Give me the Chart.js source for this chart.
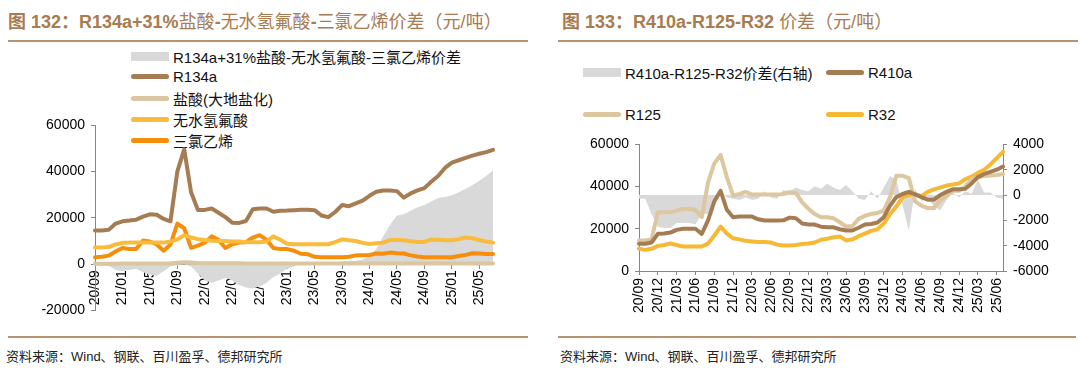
<!DOCTYPE html>
<html>
<head>
<meta charset="utf-8">
<script src="https://cdn.jsdelivr.net/npm/chart.js@4.4.1/dist/chart.umd.min.js"></script>
<style>
  body { margin: 0; width: 1080px; height: 371px; background: #fff; position: relative; overflow: hidden;
         font-family: "Liberation Sans", Arial, "Noto Sans CJK SC", sans-serif; }
  .title { position: absolute; top: 7px; font-size: 18px; color: #a87b50; white-space: nowrap; }
  .rule { position: absolute; height: 2px; background: #b8916f; }
  .src { position: absolute; top: 346px; font-size: 13px; color: #222; white-space: nowrap; }
  .item { position: absolute; display: flex; align-items: center; white-space: nowrap; font-size: 15px; color: #111; height: 20px; }
  .sw { width: 38px; margin-right: 4px; }
  canvas { position: absolute; }
</style>
</head>
<body>

<div class="title" style="left:8px"><b>图 132：R134a+31%</b>盐酸<b>-</b>无水氢氟酸<b>-</b>三氯乙烯价差（元/吨）</div>
<div class="rule" style="left:8px; top:40px; width:520px"></div>
<div class="title" style="left:562px"><b>图 133：R410a-R125-R32 </b>价差（元/吨）</div>
<div class="rule" style="left:558px; top:40px; width:520px"></div>

<div id="legend1"></div>
<div id="legend2"></div>

<div style="position:absolute; left:0; top:110px; width:540px; height:215px">
  <canvas id="chart1" width="540" height="215"></canvas>
</div>
<div style="position:absolute; left:540px; top:130px; width:540px; height:200px">
  <canvas id="chart2" width="540" height="200"></canvas>
</div>

<div class="rule" style="left:8px; top:336px; width:520px"></div>
<div class="rule" style="left:558px; top:336px; width:518px"></div>
<div class="src" style="left:6px">资料来源：Wind、钢联、百川盈孚、德邦研究所</div>
<div class="src" style="left:560px">资料来源：Wind、钢联、百川盈孚、德邦研究所</div>

<script>
// Monthly labels, 2020/09 - 2025/07
const months = [
  "20/09","20/10","20/11","20/12",
  "21/01","21/02","21/03","21/04","21/05","21/06","21/07","21/08","21/09","21/10","21/11","21/12",
  "22/01","22/02","22/03","22/04","22/05","22/06","22/07","22/08","22/09","22/10","22/11","22/12",
  "23/01","23/02","23/03","23/04","23/05","23/06","23/07","23/08","23/09","23/10","23/11","23/12",
  "24/01","24/02","24/03","24/04","24/05","24/06","24/07","24/08","24/09","24/10","24/11","24/12",
  "25/01","25/02","25/03","25/04","25/05","25/06","25/07"
];

// Chart 1 (元/吨)
const spread134 = [
  -200, -500, -800, -2500, -3000, -2500, -2000, -3500, -4500, -5000, -3000, -1000,
  -500, 0, -1000, -4000, -7000, -8000, -7000, -6000, -7000, -9000, -10000, -10500,
  -9500, -8000, -5500, -4000, -2000, -1000, 300, 500, 800, 600, 500, 800,
  1200, 1500, 1500, 2000, 3500, 6500, 12000, 17000, 21000, 21500, 23000, 24500,
  25500, 27000, 28500, 29000, 29700, 31000, 32500, 34000, 36000, 38000, 40500
];
const r134a = [
  14500, 14500, 14800, 17500, 18500, 18800, 19200, 20500, 21500, 21300, 19500, 18500,
  40000, 49500, 31000, 23400, 23400, 24000, 22200, 20300, 17900, 17800, 18600, 23700,
  24000, 24000, 22600, 23000, 23100, 23300, 23500, 23500, 23300, 21000, 20300, 22500,
  25500, 25000, 26200, 27400, 29500, 31200, 31800, 31800, 31500, 28700, 30500, 31800,
  32800, 35500, 38000, 41500, 43800, 44800, 45800, 46800, 47600, 48300, 49300
];
const hcl = [
  200, 200, 200, 200, 300, 300, 300, 300, 300, 300, 300, 400,
  600, 800, 700, 500, 400, 400, 400, 400, 400, 400, 300, 300,
  300, 300, 300, 300, 300, 300, 300, 300, 300, 300, 300, 300,
  300, 300, 300, 300, 300, 300, 300, 300, 300, 300, 300, 300,
  300, 300, 300, 300, 300, 300, 300, 300, 300, 300, 300
];
const hf = [
  7200, 7200, 7400, 8500, 9200, 9300, 9300, 9300, 9300, 9300, 9300, 9800,
  10700, 12500, 11500, 10800, 10400, 10100, 10000, 10000, 9800, 9800, 9600, 9500,
  9500, 9800, 12000, 10500, 8800, 8600, 8600, 8600, 8600, 8600, 8600, 9500,
  10700, 10300, 10000, 9200, 8700, 9000, 9300, 10400, 10400, 10300, 9900, 9600,
  9600, 10600, 10500, 10300, 10300, 10800, 11500, 11200, 10400, 9800, 9300
];
const tce = [
  3000, 3200, 3700, 5500, 7000, 6500, 6500, 10200, 9800, 8500, 5800, 8500,
  17500, 15500, 7000, 8000, 9300, 12000, 10500, 7000, 8600, 9300, 9500, 11500,
  12500, 10500, 7000, 6500, 6500, 5800, 4500, 4300, 3200, 3000, 3000, 3000,
  3000, 3200, 3800, 3900, 4000, 4600, 4500, 5000, 4700, 4600, 3800, 3300,
  3000, 3000, 3000, 3000, 3000, 3500, 4000, 4700, 4600, 4400, 4400
];

// Chart 2 (元/吨)
const spread410 = [
  -300, -300, -1500, -2500, -2600, -2600, -2200, -2200, -2200, -2300, -1500, -1500,
  -800, 300, -200, -300, -400, -200, -400, -300, 300, -200, -300, 400,
  300, 600, 400, 300, 700, 500, 900, 600, 400, 800, 300, -300,
  -400, 300, -300, 600, 1500, 1200, -800, -2800, 500, -500, -200, -900,
  -1200, -400, 200, -200, 300, 100, 1200, 200, 200, -200, -300
];
const r410a = [
  12900, 12900, 13500, 17600, 17800, 18200, 19500, 20000, 20000, 20000, 17600, 24000,
  33000, 38000, 29000, 25500, 25800, 25800, 25800, 24500, 23900, 23900, 23900, 24000,
  25300, 25000, 22500, 22000, 22000, 21000, 20700, 20700, 19800, 19200, 19200, 20500,
  22000, 22300, 23000, 25500, 31000, 35000, 36500, 37500, 36300, 35000, 33800, 33800,
  36000, 37500, 38700, 38700, 39000, 41500, 44500, 46000, 47000, 48000, 49500
];
const r125 = [
  14500, 14500, 15000, 27800, 27800, 27800, 28600, 29400, 29400, 29000, 25500, 42000,
  51000, 55000, 44500, 35700, 36500, 37500, 36200, 36200, 36200, 36200, 36200, 36500,
  37300, 37000, 32500, 29500, 27000, 25500, 25500, 25000, 23100, 21100, 21300, 24700,
  26200, 27000, 27500, 28600, 35000, 45100, 45100, 44000, 33000, 31000, 29800, 29800,
  33500, 35500, 38000, 38000, 40000, 43500, 44500, 45000, 45200, 45500, 46000
];
const r32 = [
  10600, 10000, 10500, 11900, 12300, 13000, 12300, 11600, 11600, 11600, 11600, 13000,
  16800, 21000, 17700, 15500, 15000, 14300, 14000, 13700, 13700, 13500, 12500, 12100,
  12100, 12300, 12800, 13000, 13500, 14800, 15300, 16000, 16400, 14500, 15000, 16500,
  17700, 19000, 19800, 22500, 27000, 30500, 35000, 36000, 36300, 35500, 37500, 38700,
  39500, 40500, 41000, 41500, 43500, 44700, 46500, 48000, 50500, 53500, 56500
];

const tickFont = { family: "'Liberation Sans', Arial, sans-serif", size: 14 };
const axisGray = "#868686";
const plainNum = (v) => String(v);

function lineSet(label, data, color, yAxisID) {
  return {
    label, data, yAxisID,
    borderColor: color, backgroundColor: color,
    borderWidth: 4, pointRadius: 0, tension: 0, fill: false,
    borderCapStyle: "round", borderJoinStyle: "round", order: 1
  };
}
function areaSet(label, data, yAxisID) {
  return {
    label, data, yAxisID,
    borderWidth: 0, borderColor: "#d9d9d9", backgroundColor: "#d9d9d9",
    pointRadius: 0, tension: 0, fill: "origin", order: 2
  };
}
function everyN(n) {
  return function (v, i) { return i % n === 0 ? this.getLabelForValue(v) : ""; };
}

const chart1 = new Chart(document.getElementById("chart1"), {
  type: "line",
  data: {
    labels: months,
    datasets: [
      areaSet("R134a+31%盐酸-无水氢氟酸-三氯乙烯价差", spread134, "y"),
      lineSet("R134a", r134a, "#a67c52", "y"),
      lineSet("盐酸(大地盐化)", hcl, "#dac6a0", "y"),
      lineSet("无水氢氟酸", hf, "#f8bb3c", "y"),
      lineSet("三氯乙烯", tce, "#f68e0c", "y")
    ]
  },
  options: {
    responsive: false,
    animation: false,
    layout: { padding: { top: 15, right: 47, bottom: 13, left: 0 } },
    plugins: { legend: { display: false }, tooltip: { enabled: false } },
    scales: {
      x: {
        position: { y: 0 },
        z: 1,
        border: { color: axisGray },
        grid: { drawOnChartArea: false, tickLength: 4,
                tickColor: (c) => (c.index % 4 === 0 ? axisGray : "rgba(0,0,0,0)") },
        ticks: { autoSkip: false, minRotation: 90, maxRotation: 90, padding: 2,
                 font: tickFont, color: "#000", callback: everyN(4) }
      },
      y: {
        min: -20000, max: 60000,
        border: { color: axisGray },
        grid: { drawOnChartArea: false, tickLength: 4, tickColor: axisGray },
        ticks: { stepSize: 20000, padding: 6, font: tickFont, color: "#000", callback: plainNum },
        afterFit: (s) => { s.width = 95; }
      }
    }
  }
});

const chart2 = new Chart(document.getElementById("chart2"), {
  type: "line",
  data: {
    labels: months,
    datasets: [
      areaSet("R410a-R125-R32价差(右轴)", spread410, "y2"),
      lineSet("R410a", r410a, "#a67c52", "y"),
      lineSet("R125", r125, "#dcc79f", "y"),
      lineSet("R32", r32, "#f6b935", "y")
    ]
  },
  options: {
    responsive: false,
    animation: false,
    layout: { padding: { top: 13, right: 0, bottom: 0, left: 0 } },
    plugins: { legend: { display: false }, tooltip: { enabled: false } },
    scales: {
      x: {
        border: { color: axisGray },
        grid: { drawOnChartArea: false, tickLength: 4,
                tickColor: (c) => (c.index % 3 === 0 ? axisGray : "rgba(0,0,0,0)") },
        ticks: { autoSkip: false, minRotation: 90, maxRotation: 90, padding: 3,
                 font: tickFont, color: "#000", callback: everyN(3) },
        afterFit: (s) => { s.height = 59; }
      },
      y: {
        position: "left", min: 0, max: 60000,
        border: { color: axisGray },
        grid: { drawOnChartArea: false, tickLength: 4, tickColor: axisGray },
        ticks: { stepSize: 20000, padding: 6, font: tickFont, color: "#000", callback: plainNum },
        afterFit: (s) => { s.width = 99; }
      },
      y2: {
        position: "right", min: -6000, max: 4000,
        border: { color: axisGray },
        grid: { drawOnChartArea: false, tickLength: 4, tickColor: axisGray },
        ticks: { stepSize: 2000, padding: 6, font: tickFont, color: "#000", callback: plainNum },
        afterFit: (s) => { s.width = 77; }
      }
    }
  }
});

// HTML legends built from the chart datasets
function buildLegend(holder, chart, places) {
  chart.data.datasets.forEach((ds, i) => {
    const item = document.createElement("div");
    item.className = "item";
    item.style.left = places[i][0] + "px";
    item.style.top = (places[i][1] - 10) + "px";
    const sw = document.createElement("span");
    sw.className = "sw";
    if (ds.fill) {
      sw.style.height = "9px";
      sw.style.background = ds.backgroundColor;
    } else {
      sw.style.height = "5px";
      sw.style.borderRadius = "3px";
      sw.style.background = ds.borderColor;
    }
    const txt = document.createElement("span");
    txt.textContent = ds.label;
    item.appendChild(sw);
    item.appendChild(txt);
    holder.appendChild(item);
  });
}
buildLegend(document.getElementById("legend1"), chart1,
  [[131, 56], [131, 76], [131, 98], [131, 119], [131, 140]]);
buildLegend(document.getElementById("legend2"), chart2,
  [[583, 72], [826, 72], [583, 114], [826, 114]]);
</script>
</body>
</html>
